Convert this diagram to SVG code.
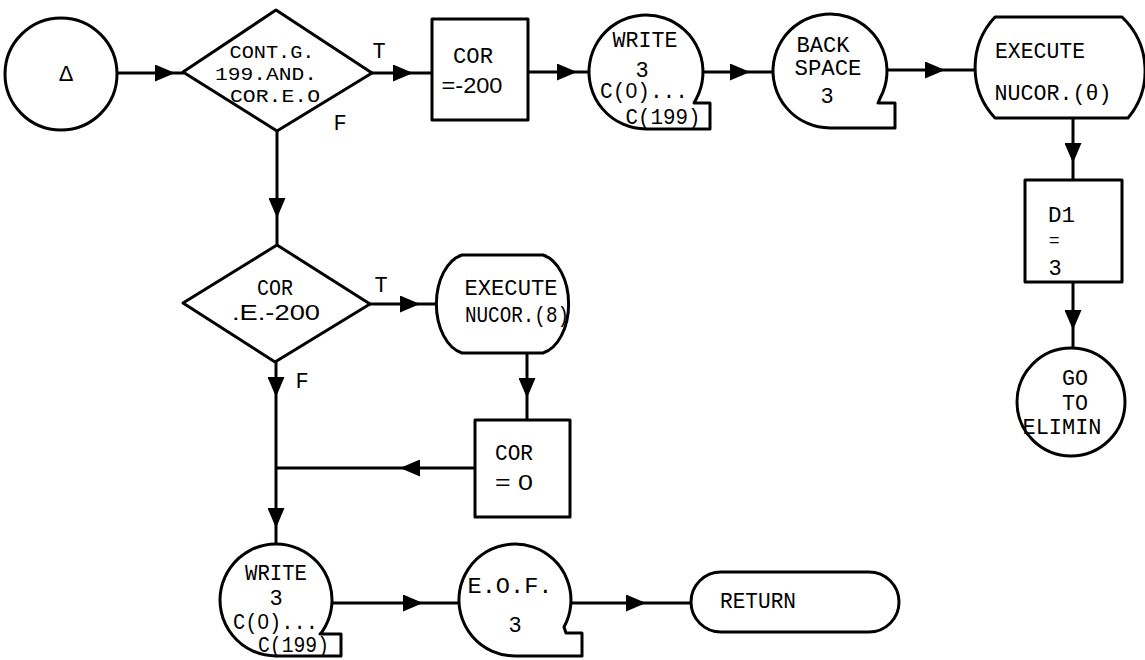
<svg xmlns="http://www.w3.org/2000/svg" width="1145" height="660" viewBox="0 0 1145 660">
  <style>
    .shape { fill: #fff; stroke: #000; stroke-width: 3; stroke-linejoin: round; }
    .wire { fill: none; stroke: #000; stroke-width: 3; marker-mid: url(#arrow); }
    .t { font-family: "Liberation Mono", "DejaVu Sans Mono", monospace; font-size: 22px; fill: #000; text-anchor: middle; }
    .n { font-family: "Liberation Sans", "DejaVu Sans", sans-serif; font-size: 22px; }
    .d { font-size: 19px; }
    .s { text-anchor: start; }
  </style>
  <defs>
    <marker id="arrow" markerUnits="userSpaceOnUse" markerWidth="20" markerHeight="17" viewBox="0 0 20 17" refX="20" refY="8.5" orient="auto">
      <path d="M0,0 L20,8.5 L0,17 Z" fill="#000"/>
    </marker>
  </defs>
  <rect width="1145" height="660" fill="#fff"/>

  <!-- connectors: each arrowhead sits on an interior vertex -->
  <g id="connectors">
    <path class="wire" d="M117,73 L175,73 L184,73"/>
    <path class="wire" d="M372,73 L413,73 L432,73"/>
    <path class="wire" d="M528,72 L577,72 L590,72"/>
    <path class="wire" d="M703,72 L750,72 L773,72"/>
    <path class="wire" d="M887,70 L945,70 L976,70"/>
    <path class="wire" d="M1073,118 L1073,163 L1073,180"/>
    <path class="wire" d="M1073,282 L1073,330 L1073,348"/>
    <path class="wire" d="M277,131 L277,218 L277,245"/>
    <path class="wire" d="M370,304 L420,304 L437,304"/>
    <path class="wire" d="M527,353 L527,398 L527,420"/>
    <path class="wire" d="M475,468 L400,468 L276,468"/>
    <path class="wire" d="M276,362 L276,397 L276,528 L276,544"/>
    <path class="wire" d="M332,603 L423,603 L459,603"/>
    <path class="wire" d="M571,603 L646,603 L691,603"/>
  </g>

  <g id="start">
    <circle class="shape" cx="61" cy="74" r="56"/>
    <text class="t n" x="66" y="81">Δ</text>
  </g>

  <g id="test-cont">
    <polygon class="shape" points="183,72 276,10 372,73 277,131"/>
    <text class="t d" x="272" y="58" textLength="85" lengthAdjust="spacingAndGlyphs">CONT.G.</text>
    <text class="t d" x="266" y="80" textLength="102" lengthAdjust="spacingAndGlyphs">199.AND.</text>
    <text class="t d" x="275" y="102" textLength="90" lengthAdjust="spacingAndGlyphs">COR.E.O</text>
    <text class="t" x="379" y="58">T</text>
    <text class="t" x="340" y="130">F</text>
  </g>

  <g id="set-cor-neg">
    <rect class="shape" x="432" y="19" width="96" height="101"/>
    <text class="t" x="473" y="63" textLength="40" lengthAdjust="spacingAndGlyphs">COR</text>
    <text class="t n" x="472" y="93" textLength="61" lengthAdjust="spacingAndGlyphs">=-200</text>
  </g>

  <g id="write-tape-1">
    <path class="shape" d="M646,129 A57,57 0 1 1 696.3,98.8 L694,103 L710,103 L710,129 Z"/>
    <text class="t" x="645" y="47" textLength="65" lengthAdjust="spacingAndGlyphs">WRITE</text>
    <text class="t n" x="642" y="77">3</text>
    <text class="t" x="644" y="98" textLength="88" lengthAdjust="spacingAndGlyphs">C(<tspan class="n">0</tspan>)...</text>
    <text class="t" x="663" y="124" textLength="75" lengthAdjust="spacingAndGlyphs">C(199)</text>
  </g>

  <g id="backspace">
    <path class="shape" d="M830,128 A57,57 0 1 1 880.3,97.8 L878,103 L895,103 L895,128 Z"/>
    <text class="t" x="823" y="52" textLength="53" lengthAdjust="spacingAndGlyphs">BACK</text>
    <text class="t" x="828" y="75" textLength="67" lengthAdjust="spacingAndGlyphs">SPACE</text>
    <text class="t n" x="827" y="103">3</text>
  </g>

  <g id="execute-theta">
    <path class="shape" d="M995,17 L1122,17 A74,74 0 0 1 1128,118 L995,118 A74,74 0 0 1 995,17 Z"/>
    <text class="t" x="1040" y="58" textLength="90" lengthAdjust="spacingAndGlyphs">EXECUTE</text>
    <text class="t" x="1053" y="100" textLength="117" lengthAdjust="spacingAndGlyphs">NUCOR.(θ)</text>
  </g>

  <g id="set-d1">
    <rect class="shape" x="1025" y="180" width="97" height="102"/>
    <text class="t s" x="1048" y="222" textLength="27" lengthAdjust="spacingAndGlyphs">D1</text>
    <text class="t n s" x="1049" y="246" style="font-size:18px">=</text>
    <text class="t n s" x="1049" y="275">3</text>
  </g>

  <g id="goto-elimin">
    <circle class="shape" cx="1071" cy="402" r="54"/>
    <text class="t" x="1075" y="385" textLength="26" lengthAdjust="spacingAndGlyphs">GO</text>
    <text class="t" x="1075" y="410" textLength="26" lengthAdjust="spacingAndGlyphs">TO</text>
    <text class="t" x="1062" y="434" textLength="79" lengthAdjust="spacingAndGlyphs">ELIMIN</text>
  </g>

  <g id="test-cor">
    <polygon class="shape" points="183,303 277,245 370,304 275,362"/>
    <text class="t" x="275" y="295" textLength="36" lengthAdjust="spacingAndGlyphs">COR</text>
    <text class="t n" x="276" y="320" textLength="88" lengthAdjust="spacingAndGlyphs">.E.-200</text>
    <text class="t" x="381" y="292">T</text>
    <text class="t" x="302" y="388">F</text>
  </g>

  <g id="execute-8">
    <path class="shape" d="M462,255 L543,255 A32,50 0 0 1 543,353 L462,353 A32,50 0 0 1 462,255 Z"/>
    <text class="t" x="511" y="295" textLength="93" lengthAdjust="spacingAndGlyphs">EXECUTE</text>
    <text class="t" x="517" y="322" textLength="104" lengthAdjust="spacingAndGlyphs">NUCOR.(8)</text>
  </g>

  <g id="set-cor-zero">
    <rect class="shape" x="475" y="420" width="95" height="97"/>
    <text class="t" x="514" y="460" textLength="38" lengthAdjust="spacingAndGlyphs">COR</text>
    <text class="t n" x="514" y="490" textLength="38" lengthAdjust="spacingAndGlyphs">= 0</text>
  </g>

  <g id="write-tape-2">
    <path class="shape" d="M276,656 A56,56 0 1 1 321.9,632.1 L320,634 L341,634 L341,656 Z"/>
    <text class="t" x="276" y="580" textLength="62" lengthAdjust="spacingAndGlyphs">WRITE</text>
    <text class="t n" x="276" y="605">3</text>
    <text class="t" x="275.5" y="629" textLength="85" lengthAdjust="spacingAndGlyphs">C(<tspan class="n">0</tspan>)...</text>
    <text class="t" x="293.5" y="652" textLength="71" lengthAdjust="spacingAndGlyphs">C(199)</text>
  </g>

  <g id="eof">
    <path class="shape" d="M515,656 A56,56 0 1 1 564,627 L566,633 L582,633 L582,656 Z"/>
    <text class="t" x="510" y="593" textLength="85" lengthAdjust="spacingAndGlyphs">E.O.F.</text>
    <text class="t n" x="515" y="632">3</text>
  </g>

  <g id="return">
    <rect class="shape" x="691" y="572" width="208" height="60" rx="30" ry="30"/>
    <text class="t" x="758" y="608" textLength="76" lengthAdjust="spacingAndGlyphs">RETURN</text>
  </g>
</svg>
